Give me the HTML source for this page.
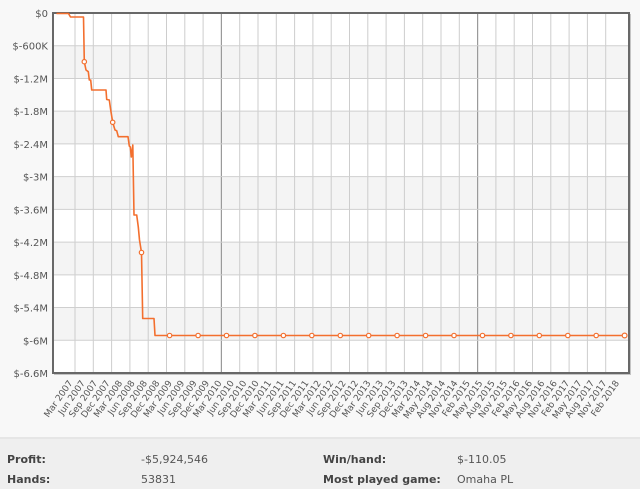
<!DOCTYPE html>
<html><head><meta charset="utf-8"><style>
html,body{margin:0;padding:0;background:#f8f8f8;}
svg{display:block;}
text{font-family:"DejaVu Sans","Liberation Sans",sans-serif;}
</style></head><body>
<svg width="640" height="489" viewBox="0 0 640 489" xmlns="http://www.w3.org/2000/svg">
<rect x="0" y="0" width="640" height="489" fill="#f8f8f8"/>
<!-- plot bg -->
<rect x="53" y="13" width="576" height="360" fill="#ffffff"/>
<g fill="#f4f4f4">
<rect x="53" y="45.73" width="576" height="32.72"/>
<rect x="53" y="111.18" width="576" height="32.73"/>
<rect x="53" y="176.64" width="576" height="32.72"/>
<rect x="53" y="242.09" width="576" height="32.73"/>
<rect x="53" y="307.55" width="576" height="32.72"/>
</g>
<!-- vertical grid -->
<g stroke="#cdcdcd" stroke-width="1">
<line x1="75" y1="13" x2="75" y2="373"/>
<line x1="93.3" y1="13" x2="93.3" y2="373"/>
<line x1="111.6" y1="13" x2="111.6" y2="373"/>
<line x1="129.9" y1="13" x2="129.9" y2="373"/>
<line x1="148.2" y1="13" x2="148.2" y2="373"/>
<line x1="166.5" y1="13" x2="166.5" y2="373"/>
<line x1="184.8" y1="13" x2="184.8" y2="373"/>
<line x1="203.1" y1="13" x2="203.1" y2="373"/>
<line x1="239.7" y1="13" x2="239.7" y2="373"/>
<line x1="258" y1="13" x2="258" y2="373"/>
<line x1="276.3" y1="13" x2="276.3" y2="373"/>
<line x1="294.6" y1="13" x2="294.6" y2="373"/>
<line x1="312.9" y1="13" x2="312.9" y2="373"/>
<line x1="331.2" y1="13" x2="331.2" y2="373"/>
<line x1="349.5" y1="13" x2="349.5" y2="373"/>
<line x1="367.8" y1="13" x2="367.8" y2="373"/>
<line x1="386.1" y1="13" x2="386.1" y2="373"/>
<line x1="404.4" y1="13" x2="404.4" y2="373"/>
<line x1="422.7" y1="13" x2="422.7" y2="373"/>
<line x1="441" y1="13" x2="441" y2="373"/>
<line x1="459.3" y1="13" x2="459.3" y2="373"/>
<line x1="495.9" y1="13" x2="495.9" y2="373"/>
<line x1="514.2" y1="13" x2="514.2" y2="373"/>
<line x1="532.5" y1="13" x2="532.5" y2="373"/>
<line x1="550.8" y1="13" x2="550.8" y2="373"/>
<line x1="569.1" y1="13" x2="569.1" y2="373"/>
<line x1="587.4" y1="13" x2="587.4" y2="373"/>
<line x1="605.7" y1="13" x2="605.7" y2="373"/>
</g>
<g stroke="#9a9a9a" stroke-width="1.2">
<line x1="221.4" y1="13" x2="221.4" y2="373"/>
<line x1="477.6" y1="13" x2="477.6" y2="373"/>
</g>
<!-- horizontal grid -->
<g stroke="#cfcfcf" stroke-width="1">
<line x1="53" y1="45.73" x2="629" y2="45.73"/>
<line x1="53" y1="78.45" x2="629" y2="78.45"/>
<line x1="53" y1="111.18" x2="629" y2="111.18"/>
<line x1="53" y1="143.91" x2="629" y2="143.91"/>
<line x1="53" y1="176.64" x2="629" y2="176.64"/>
<line x1="53" y1="209.36" x2="629" y2="209.36"/>
<line x1="53" y1="242.09" x2="629" y2="242.09"/>
<line x1="53" y1="274.82" x2="629" y2="274.82"/>
<line x1="53" y1="307.55" x2="629" y2="307.55"/>
<line x1="53" y1="340.27" x2="629" y2="340.27"/>
</g>
<!-- frame -->
<line x1="630.5" y1="14" x2="630.5" y2="375" stroke="#c4c4c4" stroke-width="1"/>
<line x1="54" y1="374.5" x2="631" y2="374.5" stroke="#c4c4c4" stroke-width="1"/>
<rect x="53" y="13" width="576" height="360" fill="none" stroke="#686868" stroke-width="2"/>
<!-- data line -->
<path d="M56.5,13.5 L68.5,13.5 L70.5,17 L83.5,17 L84.3,61.7 L86,70 L88.3,71.7 L89.3,80 L90.7,80 L91.7,90 L106,90 L106.7,99.5 L109.3,100 L110.7,110 L112.7,122.3 L115,130 L116.7,130.7 L118.3,136.7 L128,136.7 L129.3,146 L130.3,147 L131.3,157 L132.8,145 L134,215 L136.7,215 L138.3,227 L139.5,240 L141.5,252.5 L142.7,318.5 L154,318.5 L155,335.5 L624.6,335.5" fill="none" stroke="#f36f2e" stroke-width="1.6" stroke-linejoin="round"/>
<g fill="#ffffff" stroke="#f36f2e" stroke-width="1.2">
<circle cx="84.3" cy="61.7" r="2.2"/>
<circle cx="112.7" cy="122.3" r="2.2"/>
<circle cx="141.5" cy="252.5" r="2.2"/>
<circle cx="169.6" cy="335.5" r="2.2"/>
<circle cx="198.1" cy="335.5" r="2.2"/>
<circle cx="226.5" cy="335.5" r="2.2"/>
<circle cx="254.9" cy="335.5" r="2.2"/>
<circle cx="283.4" cy="335.5" r="2.2"/>
<circle cx="311.8" cy="335.5" r="2.2"/>
<circle cx="340.3" cy="335.5" r="2.2"/>
<circle cx="368.7" cy="335.5" r="2.2"/>
<circle cx="397.1" cy="335.5" r="2.2"/>
<circle cx="425.6" cy="335.5" r="2.2"/>
<circle cx="454" cy="335.5" r="2.2"/>
<circle cx="482.5" cy="335.5" r="2.2"/>
<circle cx="510.9" cy="335.5" r="2.2"/>
<circle cx="539.3" cy="335.5" r="2.2"/>
<circle cx="567.8" cy="335.5" r="2.2"/>
<circle cx="596.2" cy="335.5" r="2.2"/>
<circle cx="624.6" cy="335.5" r="2.4"/>
</g>
<!-- y labels -->
<g font-size="10" fill="#555" text-anchor="end">
<text x="48" y="17">$0</text>
<text x="48" y="49.7">$-600K</text>
<text x="48" y="82.4">$-1.2M</text>
<text x="48" y="115.2">$-1.8M</text>
<text x="48" y="147.9">$-2.4M</text>
<text x="48" y="180.6">$-3M</text>
<text x="48" y="213.4">$-3.6M</text>
<text x="48" y="246.1">$-4.2M</text>
<text x="48" y="278.8">$-4.8M</text>
<text x="48" y="311.5">$-5.4M</text>
<text x="48" y="344.3">$-6M</text>
<text x="48" y="377">$-6.6M</text>
</g>
<!-- x labels -->
<g font-size="9" fill="#555" text-anchor="end">
<text transform="translate(73,383) rotate(-55)">Mar 2007</text>
<text transform="translate(85.42,383) rotate(-55)">Jun 2007</text>
<text transform="translate(97.84,383) rotate(-55)">Sep 2007</text>
<text transform="translate(110.26,383) rotate(-55)">Dec 2007</text>
<text transform="translate(122.68,383) rotate(-55)">Mar 2008</text>
<text transform="translate(135.1,383) rotate(-55)">Jun 2008</text>
<text transform="translate(147.52,383) rotate(-55)">Sep 2008</text>
<text transform="translate(159.94,383) rotate(-55)">Dec 2008</text>
<text transform="translate(172.36,383) rotate(-55)">Mar 2009</text>
<text transform="translate(184.78,383) rotate(-55)">Jun 2009</text>
<text transform="translate(197.2,383) rotate(-55)">Sep 2009</text>
<text transform="translate(209.62,383) rotate(-55)">Dec 2009</text>
<text transform="translate(222.04,383) rotate(-55)">Mar 2010</text>
<text transform="translate(234.46,383) rotate(-55)">Jun 2010</text>
<text transform="translate(246.88,383) rotate(-55)">Sep 2010</text>
<text transform="translate(259.3,383) rotate(-55)">Dec 2010</text>
<text transform="translate(271.72,383) rotate(-55)">Mar 2011</text>
<text transform="translate(284.14,383) rotate(-55)">Jun 2011</text>
<text transform="translate(296.56,383) rotate(-55)">Sep 2011</text>
<text transform="translate(308.98,383) rotate(-55)">Dec 2011</text>
<text transform="translate(321.4,383) rotate(-55)">Mar 2012</text>
<text transform="translate(333.82,383) rotate(-55)">Jun 2012</text>
<text transform="translate(346.24,383) rotate(-55)">Sep 2012</text>
<text transform="translate(358.66,383) rotate(-55)">Dec 2012</text>
<text transform="translate(371.08,383) rotate(-55)">Mar 2013</text>
<text transform="translate(383.5,383) rotate(-55)">Jun 2013</text>
<text transform="translate(395.92,383) rotate(-55)">Sep 2013</text>
<text transform="translate(408.34,383) rotate(-55)">Dec 2013</text>
<text transform="translate(420.76,383) rotate(-55)">Mar 2014</text>
<text transform="translate(433.18,383) rotate(-55)">May 2014</text>
<text transform="translate(445.6,383) rotate(-55)">Aug 2014</text>
<text transform="translate(458.02,383) rotate(-55)">Nov 2014</text>
<text transform="translate(470.44,383) rotate(-55)">Feb 2015</text>
<text transform="translate(482.86,383) rotate(-55)">May 2015</text>
<text transform="translate(495.28,383) rotate(-55)">Aug 2015</text>
<text transform="translate(507.7,383) rotate(-55)">Nov 2015</text>
<text transform="translate(520.12,383) rotate(-55)">Feb 2016</text>
<text transform="translate(532.54,383) rotate(-55)">May 2016</text>
<text transform="translate(544.96,383) rotate(-55)">Aug 2016</text>
<text transform="translate(557.38,383) rotate(-55)">Nov 2016</text>
<text transform="translate(569.8,383) rotate(-55)">Feb 2017</text>
<text transform="translate(582.22,383) rotate(-55)">May 2017</text>
<text transform="translate(594.64,383) rotate(-55)">Aug 2017</text>
<text transform="translate(607.06,383) rotate(-55)">Nov 2017</text>
<text transform="translate(619.48,383) rotate(-55)">Feb 2018</text>
</g>
<!-- stats panel -->
<rect x="0" y="437" width="640" height="2" fill="#e6e6e6"/>
<rect x="0" y="439" width="640" height="50" fill="#efefef"/>
<g font-size="11">
<text x="7" y="463" font-weight="bold" fill="#444">Profit:</text>
<text x="7" y="483" font-weight="bold" fill="#444">Hands:</text>
<text x="141" y="463" fill="#555">-$5,924,546</text>
<text x="141" y="483" fill="#555">53831</text>
<text x="323" y="463" font-weight="bold" fill="#444">Win/hand:</text>
<text x="323" y="483" font-weight="bold" fill="#444">Most played game:</text>
<text x="457" y="463" fill="#555">$-110.05</text>
<text x="457" y="483" fill="#555">Omaha PL</text>
</g>
</svg>
</body></html>
